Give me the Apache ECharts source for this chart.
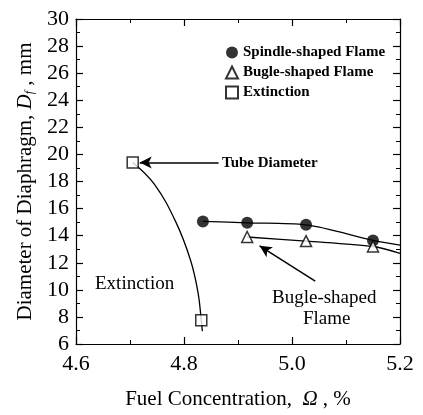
<!DOCTYPE html>
<html>
<head>
<meta charset="utf-8">
<script src="https://cdn.jsdelivr.net/npm/echarts@6/dist/echarts.min.js"></script>
<style>
  html, body { margin: 0; padding: 0; background: #fff; }
  #chart { width: 423px; height: 415px; }
</style>
</head>
<body>
<div id="chart"></div>
<script>
const spindlePts = [[4.835, 15.05], [4.917, 14.95], [5.026, 14.8], [5.15, 13.65]];
const spindleCurve = [[4.835, 15.05], [4.917, 14.95], [5.026, 14.8], [5.15, 13.65], [5.2, 13.3]];
const buglePts = [[4.917, 13.9], [5.026, 13.6], [5.15, 13.2]];
const bugleCurve = [[4.917, 13.9], [5.026, 13.6], [5.15, 13.2], [5.2, 12.7]];
const extinctionPts = [[4.705, 19.4], [4.832, 7.75]];
const extinctionCurve = [[4.705, 19.4], [4.745, 17.8], [4.785, 15.0], [4.812, 12.2], [4.826, 9.8], [4.832, 7.75], [4.834, 6.95]];
const xTicks = [4.6, 4.8, 5.0, 5.2];
const yTicks = [6, 30];

const font = '"Liberation Serif", "DejaVu Serif", serif';
const chart = echarts.init(document.getElementById('chart'));

const axisCommon = {
    axisLine: { show: true, lineStyle: { color: '#000', width: 1.2 } },
    axisTick: { show: true, inside: true, length: 7, lineStyle: { color: '#000', width: 1.2 } },
    minorTick: { show: true, splitNumber: 2, length: 4, lineStyle: { color: '#000', width: 1 } },
    splitLine: { show: false }
};

const options = {
    animation: false,
    backgroundColor: '#fff',
    grid: { left: 76, right: 23, top: 19, bottom: 68 },
    textStyle: { fontFamily: font, color: '#000' },
    legend: {
        orient: 'vertical',
        left: 220,
        top: 40,
        itemGap: 5,
        itemWidth: 12,
        itemHeight: 12,
        textStyle: { fontFamily: font, fontSize: 15, fontWeight: 'bold', color: '#000' },
        data: [
            { name: 'Spindle-shaped Flame', icon: 'circle' },
            { name: 'Bugle-shaped Flame', icon: 'triangle' },
            { name: 'Extinction', icon: 'rect' }
        ]
    },
    xAxis: [
        Object.assign({
            type: 'value',
            min: xTicks[0],
            max: xTicks[xTicks.length - 1],
            interval: 0.2,
            name: '{n|Fuel Concentration,  }{i|Ω}{n| , %}',
            nameLocation: 'middle',
            nameGap: 45,
            nameTextStyle: {
                rich: {
                    n: { fontFamily: font, fontSize: 21, color: '#000' },
                    i: { fontFamily: font, fontSize: 21, fontStyle: 'italic', color: '#000' }
                }
            },
            axisLabel: {
                margin: 9,
                fontFamily: font,
                fontSize: 22,
                color: '#000',
                formatter: v => v.toFixed(1)
            }
        }, axisCommon),
        Object.assign({
            type: 'value',
            position: 'top',
            min: xTicks[0],
            max: xTicks[xTicks.length - 1],
            interval: 0.2,
            axisLabel: { show: false }
        }, axisCommon)
    ],
    yAxis: [
        Object.assign({
            type: 'value',
            min: yTicks[0],
            max: yTicks[1],
            interval: 2,
            name: '{n|Diameter of Diaphragm, }{i|D}{s|f}{n| , mm}',
            nameLocation: 'middle',
            nameRotate: 90,
            nameGap: 36,
            nameTextStyle: {
                rich: {
                    n: { fontFamily: font, fontSize: 21, color: '#000' },
                    i: { fontFamily: font, fontSize: 21, fontStyle: 'italic', color: '#000' },
                    s: { fontFamily: font, fontSize: 12, fontStyle: 'italic', color: '#000', verticalAlign: 'bottom', padding: [7, 0, 0, 0] }
                }
            },
            axisLabel: { margin: 7, fontFamily: font, fontSize: 22, color: '#000' }
        }, axisCommon),
        Object.assign({
            type: 'value',
            position: 'right',
            min: yTicks[0],
            max: yTicks[1],
            interval: 2,
            axisLabel: { show: false }
        }, axisCommon)
    ],
    series: [
        {
            name: 'spindleLine',
            type: 'line',
            data: spindleCurve,
            smooth: 0.3,
            showSymbol: false,
            lineStyle: { color: '#000', width: 1.3 },
            z: 2
        },
        {
            name: 'bugleLine',
            type: 'line',
            data: bugleCurve,
            smooth: 0.3,
            showSymbol: false,
            lineStyle: { color: '#000', width: 1.3 },
            z: 2,
            markLine: {
                silent: true,
                symbol: ['none', 'arrow'],
                symbolSize: [9, 12],
                label: { show: false },
                lineStyle: { color: '#000', width: 1.5, type: 'solid' },
                data: [
                    [{ coord: [5.043, 10.65] }, { coord: [4.94, 13.25] }],
                    [{ coord: [4.864, 19.4] }, { coord: [4.718, 19.4] }]
                ]
            }
        },
        {
            name: 'extinctionLine',
            type: 'line',
            data: extinctionCurve,
            smooth: 0.4,
            showSymbol: false,
            lineStyle: { color: '#000', width: 1.3 },
            z: 2
        },
        {
            name: 'Spindle-shaped Flame',
            type: 'scatter',
            data: spindlePts,
            symbol: 'circle',
            symbolSize: 12,
            itemStyle: { color: '#000' },
            z: 5
        },
        {
            name: 'Bugle-shaped Flame',
            type: 'scatter',
            data: buglePts,
            symbol: 'triangle',
            symbolSize: 11,
            itemStyle: { color: '#fff', borderColor: '#000', borderWidth: 1.5 },
            z: 5
        },
        {
            name: 'Extinction',
            type: 'scatter',
            data: extinctionPts,
            symbol: 'rect',
            symbolSize: 11,
            itemStyle: { color: '#fff', borderColor: '#000', borderWidth: 1.5 },
            z: 5
        }
    ],
    graphic: [
        { type: 'text', left: 222, top: 156, style: { text: 'Tube Diameter', font: 'bold 15px ' + font, fill: '#000' } },
        { type: 'text', left: 95, top: 275, style: { text: 'Extinction', font: '19px ' + font, fill: '#000' } },
        { type: 'text', left: 272, top: 289, style: { text: 'Bugle-shaped', font: '19px ' + font, fill: '#000' } },
        { type: 'text', left: 303, top: 310, style: { text: 'Flame', font: '19px ' + font, fill: '#000' } }
    ]
};

chart.setOption(options);
window.onresize = function () {
    chart.resize();
};
</script>
</body>
</html>
